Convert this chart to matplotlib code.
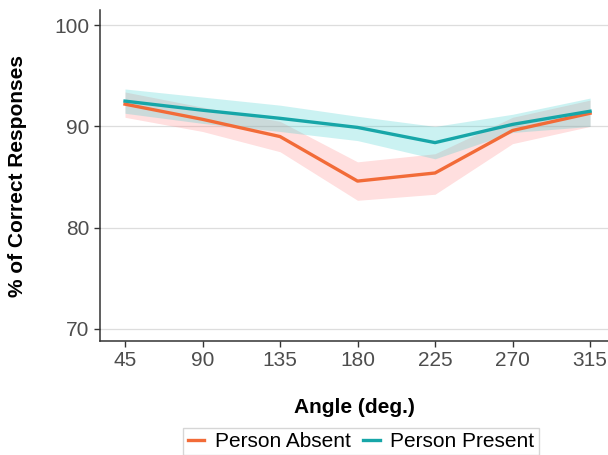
import matplotlib
matplotlib.use('agg')
import numpy as np
import matplotlib.pyplot as plt

plt.rcParams['font.family'] = ['Liberation Sans', 'DejaVu Sans']

# Angles and mean % correct with ribbon bounds
angles = [45, 90, 135, 180, 225, 270, 315]

absent_mean = [92.2, 90.7, 89.0, 84.6, 85.4, 89.6, 91.3]
absent_low = [90.9, 89.5, 87.5, 82.7, 83.3, 88.3, 90.0]
absent_high = [93.4, 91.9, 90.5, 86.5, 87.3, 90.9, 92.6]

present_mean = [92.5, 91.6, 90.8, 89.9, 88.4, 90.2, 91.5]
present_low = [91.3, 90.3, 89.5, 88.6, 86.8, 89.4, 90.0]
present_high = [93.7, 92.9, 92.1, 91.0, 90.0, 91.2, 92.8]

orange = '#F26B38'
teal = '#17A6A8'

fig = plt.figure(figsize=(6.08, 4.55), dpi=100)
ax = fig.add_axes([0.1645, 0.2505, 0.8355, 0.7275])

# ribbons + lines (orange first so teal ribbon sits on top)
ax.fill_between(angles, absent_low, absent_high, color='#FF8C8C', alpha=0.28, linewidth=0)
ax.plot(angles, absent_mean, color=orange, linewidth=2.4, label='Person Absent')
ax.fill_between(angles, present_low, present_high, color='#33CCCC', alpha=0.25, linewidth=0)
ax.plot(angles, present_mean, color=teal, linewidth=2.4, label='Person Present')

ax.set_xlim(30.5, 325.4)
ax.set_ylim(68.8, 101.5)
ax.set_xticks(angles)
ax.set_yticks([70, 80, 90, 100])
ax.yaxis.grid(True, color='#DDDDDD', linewidth=0.9)
ax.set_axisbelow(True)

for s in ['top', 'right']:
    ax.spines[s].set_visible(False)
for s in ['left', 'bottom']:
    ax.spines[s].set_color('#333333')
    ax.spines[s].set_linewidth(1.1)

ax.tick_params(axis='both', labelsize=15, labelcolor='#4D4D4D', color='#333333',
               length=4, width=1)

ax.set_xlabel('Angle (deg.)', fontsize=15, fontweight='bold', labelpad=20)
ax.set_ylabel('% of Correct Responses', fontsize=15, fontweight='bold', labelpad=20)

fig.legend(loc='upper center', bbox_to_anchor=(361 / 608, 1 - 428 / 455), ncol=2,
           fontsize=15, frameon=True, fancybox=False, edgecolor='#CCCCCC',
           handlelength=0.8, handletextpad=0.5, columnspacing=0.6,
           borderpad=0.2, borderaxespad=0)

plt.savefig('out.png', dpi=100)
